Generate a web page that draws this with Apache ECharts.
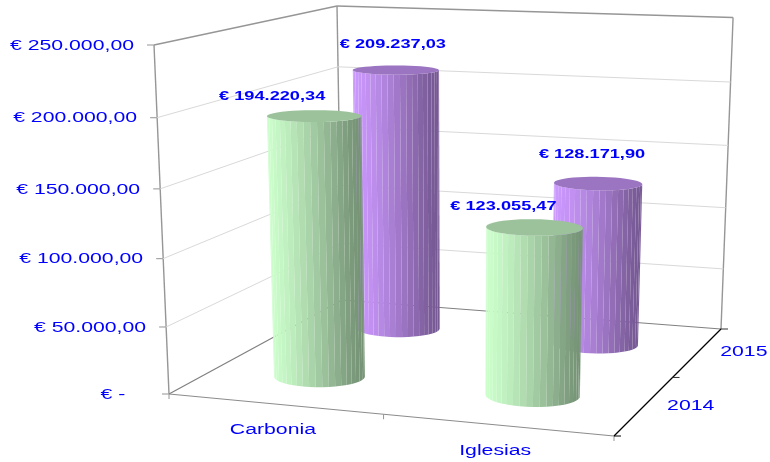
<!DOCTYPE html>
<html><head><meta charset="utf-8">
<style>html,body{margin:0;padding:0;background:#fff}#c{width:770px;height:462px}</style>
<script src="https://cdn.jsdelivr.net/npm/echarts@6/dist/echarts.min.js"></script>
</head><body><div id="c"></div>
<script>
const categories = ['Carbonia', 'Iglesias'];
const years = ['2014', '2015'];
const values2014 = [194220.34, 123055.47];
const values2015 = [209237.03, 128171.90];
const valueTicks = [0, 50000, 100000, 150000, 200000, 250000];
const valueMax = 250000;
const seriesColors = { '2014': [204, 255, 204], '2015': [204, 153, 255] };
const labelOffsets = { '2014': [[-42, -20], [-31, -21]], '2015': [[-3, -26], [-6, -29]] };

const W = 770, H = 462;
const FONT = '"Liberation Sans", Arial, sans-serif';
const BLUE = '#0000ff';
// Picture-plane corners of the 3D box
const O = [169, 394], X = [614, 436], XZ = [721, 329], Z = [342, 300], TOP0 = [154, 45], TOPZ = [337, 6];
const dx1 = X[0] - XZ[0], dx2 = Z[0] - XZ[0], sx = O[0] - X[0] + XZ[0] - Z[0];
const dy1 = X[1] - XZ[1], dy2 = Z[1] - XZ[1], sy = O[1] - X[1] + XZ[1] - Z[1];
const den = dx1 * dy2 - dx2 * dy1;
const g0 = (sx * dy2 - dx2 * sy) / den, h0 = (dx1 * sy - sx * dy1) / den;
const A = [X[0] - O[0] + g0 * X[0], X[1] - O[1] + g0 * X[1], g0];
const B = [Z[0] - O[0] + h0 * Z[0], Z[1] - O[1] + h0 * Z[1], h0];
const D = [O[0], O[1], 1];
const s0 = (B[0] - TOPZ[0] * B[2]) / (TOPZ[0] - TOP0[0]);
const C = [s0 * TOP0[0] - D[0], s0 * TOP0[1] - D[1], s0 - 1];
function project(u, v, h) {
  const p = [0, 1, 2].map(i => u * A[i] + v * B[i] + h * C[i] + D[i]);
  return [p[0] / p[2], p[1] / p[2]];
}
function seg(a, b, color, width, z) {
  return { type: 'line', silent: true, z2: z || 0,
    shape: { x1: a[0], y1: a[1], x2: b[0], y2: b[1] },
    style: { stroke: color, lineWidth: width } };
}
function label(text, x, y, size, weight, align, scale) {
  return { type: 'text', x, y, scaleX: scale, z2: 50,
    style: { text, fill: BLUE, font: weight + ' ' + size + 'px ' + FONT, align, verticalAlign: 'middle' } };
}
const RU = 0.103, RV = 0.095, N = 44;
const uOf = (api, i, val) => api.coord([i, val])[0] / W;
const hOf = (api, i, val) => 1 - api.coord([i, val])[1] / H;

function wallsItem() {
  const g = '#969696';
  return { type: 'group', children: [
    seg(TOP0, TOPZ, g, 1.4), seg(TOPZ, project(1, 1, 1), g, 1.4),
    seg(TOP0, O, g, 1.4), seg(TOPZ, Z, g, 1.4), seg(project(1, 1, 1), XZ, g, 1.4),
    seg(O, Z, '#808080', 1.2), seg(Z, XZ, '#808080', 1.2), seg(O, X, '#8c8c8c', 1.2),
    seg(X, XZ, '#000', 1.3),
    seg(O, [O[0], O[1] + 5], g, 1), seg(project(.5, 0, 0), [project(.5, 0, 0)[0], project(.5, 0, 0)[1] + 5], g, 1),
    seg(X, [X[0], X[1] + 5], g, 1),
    seg(X, [X[0] + 7, X[1]], '#000', 1), seg(project(1, .5, 0), [project(1, .5, 0)[0] + 7, project(1, .5, 0)[1]], '#333', 1),
    seg(XZ, [XZ[0] + 7, XZ[1]], '#333', 1)
  ] };
}
function tickItem(params, api) {
  const val = api.value(1), h = 1 - api.coord([0, val])[1] / H;
  const a = project(0, 0, h), b = project(0, 1, h), c = project(1, 1, h);
  const kids = [seg([a[0] - 7, a[1]], a, '#a6a6a6', 1.2)];
  if (val > 0 && val < valueMax) kids.push(seg(a, b, '#d9d9d9', 1), seg(b, c, '#d9d9d9', 1));
  const txt = val === 0 ? '€ -    ' : '€ ' + val.toLocaleString('de-DE', { minimumFractionDigits: 2 });
  kids.push(label(txt, a[0] - 20, a[1] + 0.5, 15.5, 'normal', 'right', 1.37));
  return { type: 'group', children: kids };
}
function catItem(params, api) {
  const p = project(uOf(api, api.value(0), 0), 0, 0);
  return label(categories[api.value(0)], p[0] - 1.5, p[1] + 25.5, 15.5, 'normal', 'center', 1.37);
}
function yearItem(params, api) {
  const p = project(1, (api.value(0) + .5) / years.length, 0);
  return label(years[api.value(0)], p[0] + 46, p[1], 15.5, 'normal', 'center', 1.37);
}
function cylinder(year) {
  const yi = years.indexOf(year), base = seriesColors[year];
  return function (params, api) {
    const i = api.value(0), val = api.value(1);
    const u = uOf(api, i, val), h = hOf(api, i, val), v = (yi + .5) / years.length;
    const shade = k => 'rgb(' + base.map(c => Math.round(c * k)).join(',') + ')';
    const pt = (a, hh) => project(u + RU * Math.cos(a), v + RV * Math.sin(a), hh);
    const facets = [];
    for (let k = 0; k < N; k++) {
      const a0 = k / N * 2 * Math.PI, a1 = (k + 1) / N * 2 * Math.PI, am = (a0 + a1) / 2;
      const p0 = pt(a0, 0), p1 = pt(a1, 0);
      if (p1[0] <= p0[0]) continue;
      const t = (Math.cos(am) + 1) / 2;
      facets.push({ type: 'polygon', silent: true,
        shape: { points: [p0, p1, pt(a1, h), pt(a0, h)] },
        style: { fill: shade(1 - 0.42 * Math.pow(t, 1.8)) } });
    }
    const cap = [];
    for (let k = 0; k < N; k++) cap.push(pt(k / N * 2 * Math.PI, h));
    return { type: 'group', children: facets.concat([
      { type: 'polygon', silent: true, shape: { points: cap }, style: { fill: shade(0.76) } }
    ]) };
  };
}
function dataLabel(year) {
  const yi = years.indexOf(year);
  return function (params, api) {
    const i = api.value(0), val = api.value(1);
    const c = project(uOf(api, i, val), (yi + .5) / years.length, hOf(api, i, val)), off = labelOffsets[year][i];
    const txt = '€ ' + val.toLocaleString('de-DE', { minimumFractionDigits: 2, maximumFractionDigits: 2 });
    return label(txt, c[0] + off[0], c[1] + off[1], 13, 'bold', 'center', 1.4);
  };
}
const custom = (name, renderItem, data, z) => ({ type: 'custom', name, coordinateSystem: 'cartesian2d',
  renderItem, data, z, clip: false, silent: true, animation: false, encode: { x: 0, y: 1 } });
const chart = echarts.init(document.getElementById('c'), null, { renderer: 'canvas' });
chart.setOption({
  animation: false, backgroundColor: '#fff',
  grid: { left: 0, right: 0, top: 0, bottom: 0 },
  xAxis: { type: 'category', data: categories, show: false },
  yAxis: { type: 'value', min: 0, max: valueMax, interval: 50000, show: false },
  series: [
    custom('walls', wallsItem, [[0, 0]], 1),
    custom('ticks', tickItem, valueTicks.map(v => [0, v]), 2),
    custom('categories', catItem, categories.map((c, i) => [i, 0]), 2),
    custom('years', yearItem, years.map((y, i) => [i, 0]), 2),
    custom('2015', cylinder('2015'), values2015.map((v, i) => [i, v]), 3),
    custom('2014', cylinder('2014'), values2014.map((v, i) => [i, v]), 4),
    custom('2015 labels', dataLabel('2015'), values2015.map((v, i) => [i, v]), 6),
    custom('2014 labels', dataLabel('2014'), values2014.map((v, i) => [i, v]), 6)
  ]
});
</script></body></html>
